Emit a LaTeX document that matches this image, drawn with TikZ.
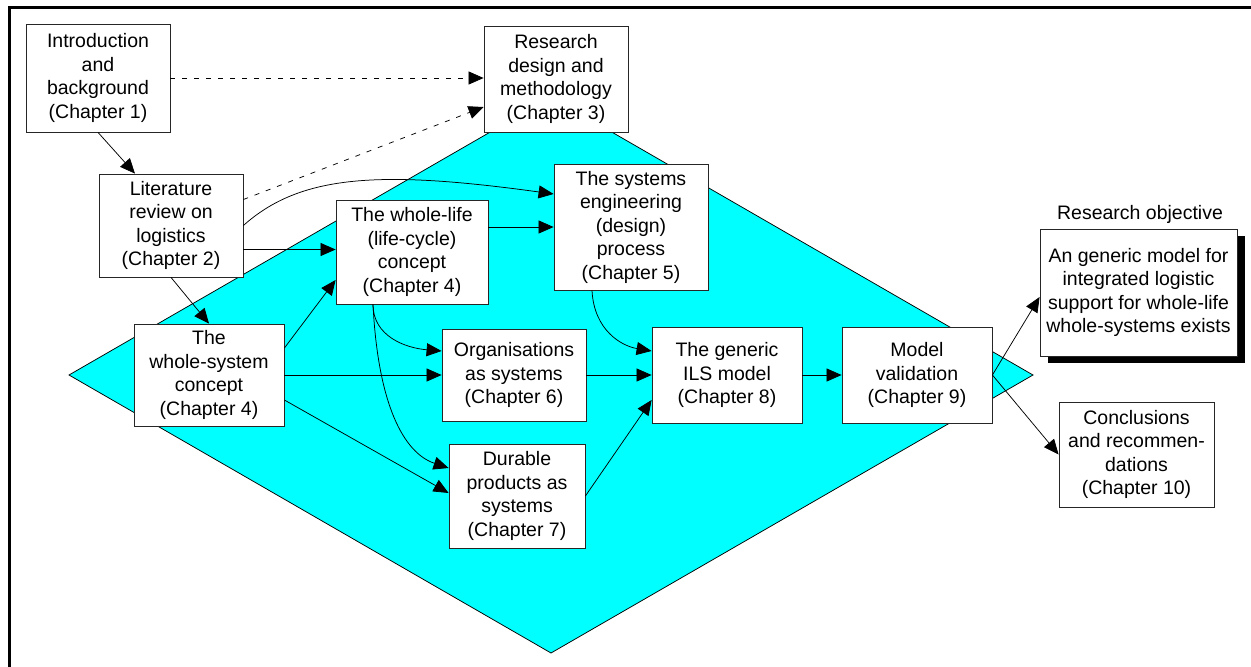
\documentclass[tikz,border=0pt]{standalone}
\usepackage{fontspec}
\setmainfont{Liberation Sans}
\usetikzlibrary{arrows.meta,shadows}
\definecolor{aqua}{RGB}{0,255,255}
\begin{document}
\begin{tikzpicture}[x=1pt,y=-1pt,
  chapbox/.style={draw=black!85,line width=0.8pt,fill=white,align=center,inner sep=0pt,
    font=\fontsize{19.5}{23.5}\selectfont},
  link/.style={line width=0.75pt,-{Triangle[length=15pt,width=13pt]}},
  dotlink/.style={link,dash pattern=on 5pt off 7pt},
  objshadow/.style={drop shadow={shadow xshift=8pt,shadow yshift=-7pt,fill=black,opacity=1}}]
\useasboundingbox (0,0) rectangle (1251,667);

% frame along the left and top edges
\draw[line width=3pt,line join=miter] (9.5,667) -- (9.5,7.5) -- (1251,7.5);

% aqua diamond behind the chapter flow
\filldraw[fill=aqua,draw=black,line width=0.75pt] (551,97) -- (1033,375) -- (551,653) -- (69,375) -- cycle;

% chapter boxes
\node[chapbox,minimum width=144pt,minimum height=108pt] (n1) at (98,78) {Introduction\\and\\background\\(Chapter 1)};
\node[chapbox,minimum width=144pt,minimum height=103pt] (n2) at (171,225.5) {Literature\\review on\\logistics\\(Chapter 2)};
\node[chapbox,minimum width=144pt,minimum height=106pt] (n3) at (556,79) {Research\\design and\\methodology\\(Chapter 3)};
\node[chapbox,minimum width=154pt,minimum height=126pt] (n4) at (631,227) {The systems\\engineering\\(design)\\process\\(Chapter 5)};
\node[chapbox,minimum width=152pt,minimum height=104pt] (n5) at (412,252) {The whole-life\\(life-cycle)\\concept\\(Chapter 4)};
\node[chapbox,minimum width=150pt,minimum height=102pt] (n6) at (209,375) {The\\whole-system\\concept\\(Chapter 4)};
\node[chapbox,minimum width=144pt,minimum height=92pt] (n7) at (514,375) {Organisations\\as systems\\(Chapter 6)};
\node[chapbox,minimum width=136pt,minimum height=104pt] (n8) at (517,496) {Durable\\products as\\systems\\(Chapter 7)};
\node[chapbox,minimum width=150pt,minimum height=96pt] (n9) at (727,375) {The generic\\ILS model\\(Chapter 8)};
\node[chapbox,minimum width=150pt,minimum height=96pt] (n10) at (917,375) {Model\\validation\\(Chapter 9)};
\node[chapbox,objshadow,minimum width=197pt,minimum height=127pt] (n11) at (1138.5,292.5) {An generic model for\\integrated logistic\\support for whole-life\\whole-systems exists};
\node[chapbox,minimum width=155pt,minimum height=105pt] (n12) at (1136.5,454.5) {Conclusions\\and recommen-\\dations\\(Chapter 10)};
\node[font=\fontsize{19.5}{23.5}\selectfont,inner sep=0pt] (objlabel) at (1140,214) {Research objective};

% connectors
\draw[link] (n1.south) -- ([xshift=-36pt]n2.north);
\draw[dotlink] (n1.east) -- (n1.east -| n3.west);
\draw[dotlink] ([yshift=26pt]n2.east) -- ([yshift=-28pt]n3.west);
\draw[link] (n2.east) .. controls +(57,-51) and +(-174,-24) .. ([yshift=33pt]n4.west);
\draw[link] ([yshift=-24pt]n2.east) -- ([yshift=-24pt]n2.east -| n5.west);
\draw[link] (n2.south) -- (n6.north);
\draw[link] ([yshift=27pt]n6.east) -- ([yshift=-28pt]n5.west);
\draw[link] (n4.west -| n5.east) -- (n4.west);
\draw[link] ([xshift=-39pt]n5.south) .. controls +(0,32) and +(-36,-3) .. ([yshift=24pt]n7.west);
\draw[link] ([xshift=-39pt]n5.south) .. controls +(5,100) and +(-45,-15) .. ([yshift=28pt]n8.west);
\draw[link] (n6.east) -- (n7.west);
\draw[link] ([yshift=-25pt]n6.east) -- ([yshift=3pt]n8.west);
\draw[link] ([xshift=-39pt]n4.south) .. controls +(2,40) and +(-30,-5) .. ([yshift=24pt]n9.west);
\draw[link] (n7.east) -- (n9.west);
\draw[link] (n8.east) -- ([yshift=-25pt]n9.west);
\draw[link] (n9.east) -- (n10.west);
\draw[link] (n10.east) -- ([yshift=-4.5pt]n11.west);
\draw[link] (n10.east) -- (n12.west);
\end{tikzpicture}
\end{document}
